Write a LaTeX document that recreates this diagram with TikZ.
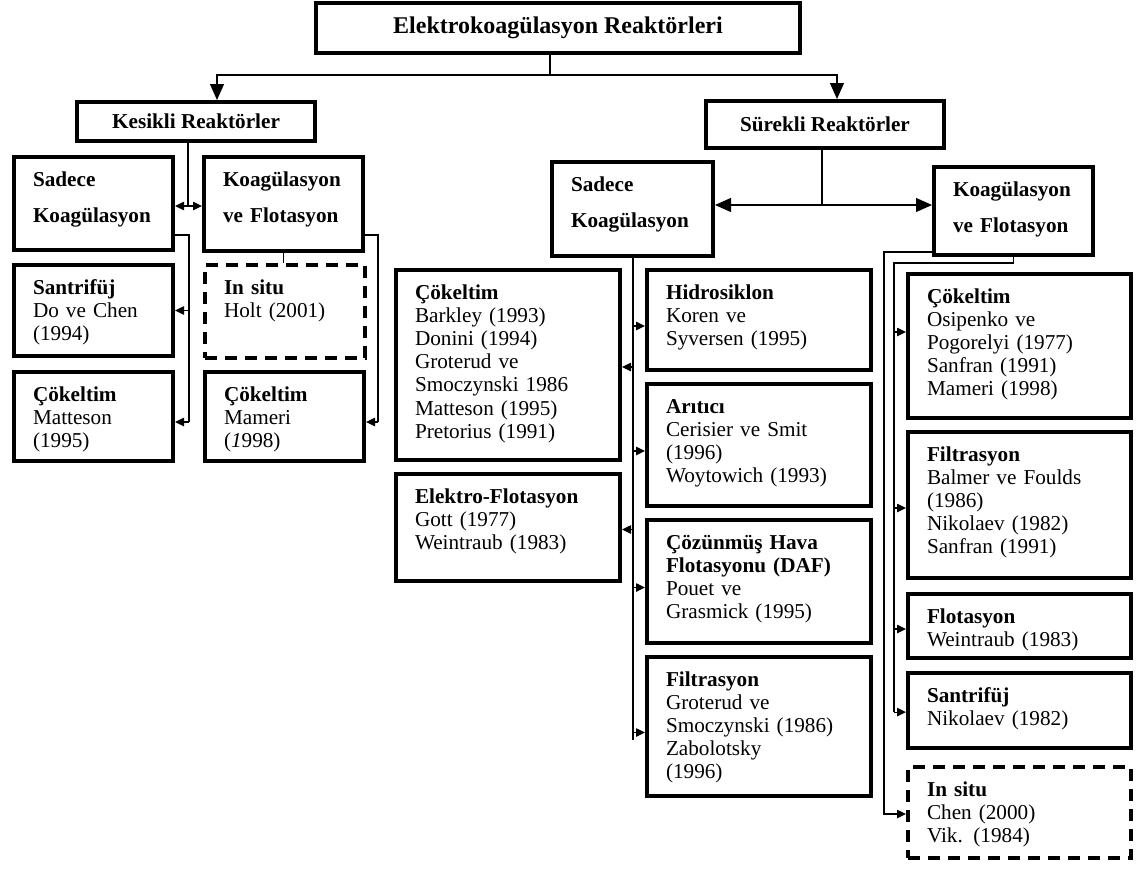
\documentclass[tikz,border=0pt]{standalone}
\usepackage{fontspec}
\setmainfont{Liberation Serif}
\usetikzlibrary{calc,arrows.meta,positioning}
\newcommand{\reffont}{\fontsize{10.6}{11.6}\selectfont}
\tikzset{
    % Reference boxes (text at the top left)
    refbox/.style={
        draw, line width=2pt, rectangle, anchor=north west,
        inner xsep=9.5pt, inner ysep=0pt, align=left,
        text height=14.5pt, font=\reffont
    },
    kindbox/.style={refbox, font=\reffont\bfseries},
    dashbox/.style={refbox, dash pattern=on 6pt off 4pt},
    % box size in pixels (width, height)
    sz/.style 2 args={text width=#1*0.5pt-19pt, text depth=#2*0.5pt-14.5pt},
    % Reactor headings
    headbox/.style={
        draw, line width=2pt, rectangle, inner sep=0pt,
        font=\reffont\bfseries
    },
}
\tikzset{
    link/.style={line width=0.6pt},
    buslink/.style={line width=0.9pt},
    tip/.style={link, -{Triangle[length=4.5pt,width=4.2pt]}},
    bigtip/.style={link, -{Triangle[length=8pt,width=7pt]}},
}

\begin{document}
\begin{tikzpicture}[x=0.5pt, y=-0.5pt]
    \useasboundingbox (0,0) rectangle (1140,868);
    % headings
    \node[headbox, minimum width=242pt, minimum height=25pt,
          font=\fontsize{12}{14}\selectfont\bfseries] (title) at (558,28) {Elektrokoagülasyon Reaktörleri};
    \node[headbox, minimum width=119pt, minimum height=19.5pt] (kes) at (196,121.5) {Kesikli Reaktörler};
    \node[headbox, minimum width=119pt, minimum height=23.5pt] (sur) at (825,124.5) {Sürekli Reaktörler};

    % batch reactors
    \node[kindbox, sz={159}{93}] (sadL) at (12,155) {Sadece\\[6.5pt]Koagülasyon};
    \node[kindbox, sz={159}{94}] (kfL) at (202,155) {Koagülasyon\\[6.5pt]ve Flotasyon};
    \node[refbox, sz={159}{91}] (santL) at (12,263) {\textbf{Santrifüj}\\Do ve Chen\\(1994)};
    \node[dashbox, sz={160}{93}] (insL) at (203,263) {\textbf{In situ}\\Holt (2001)};
    \node[refbox, sz={159}{89}] (cokL) at (12,370) {\textbf{Çökeltim}\\Matteson\\(1995)};
    \node[refbox, sz={159}{89}] (camL) at (203,370) {\textbf{Çökeltim}\\Mameri\\({\itshape 1}998)};

    % continuous reactors, coagulation only
    \node[kindbox, sz={161}{94}] (sadM) at (550,160) {Sadece\\[6.5pt]Koagülasyon};
    \node[refbox, sz={224}{190}] (cokM) at (394,268) {\textbf{Çökeltim}\\Barkley (1993)\\Donini (1994)\\Groterud ve\\Smoczynski 1986\\Matteson (1995)\\Pretorius (1991)};
    \node[refbox, sz={224}{107}] (elfM) at (394,472) {\textbf{Elektro-Flotasyon}\\Gott (1977)\\Weintraub (1983)};
    \node[refbox, sz={224}{100}] (hidM) at (645,268) {\textbf{Hidrosiklon}\\Koren ve\\Syversen (1995)};
    \node[refbox, sz={224}{122}] (ariM) at (645,382) {\textbf{Arıtıcı}\\Cerisier ve Smit\\(1996)\\Woytowich (1993)};
    \node[refbox, sz={224}{123}] (dafM) at (645,518) {\textbf{Çözünmüş Hava}\\\textbf{Flotasyonu (DAF)}\\Pouet ve\\Grasmick (1995)};
    \node[refbox, sz={224}{139}] (filM) at (645,655) {\textbf{Filtrasyon}\\Groterud ve\\Smoczynski (1986)\\Zabolotsky\\(1996)};

    % continuous reactors, coagulation and flotation
    \node[kindbox, sz={159}{88}] (kfR) at (932,165) {Koagülasyon\\[6.5pt]ve Flotasyon};
    \node[refbox, sz={223}{144}] (cokR) at (906,272) {\textbf{Çökeltim}\\Osipenko ve\\Pogorelyi (1977)\\Sanfran (1991)\\Mameri (1998)};
    \node[refbox, sz={223}{146}] (filR) at (906,430) {\textbf{Filtrasyon}\\Balmer ve Foulds\\(1986)\\Nikolaev (1982)\\Sanfran (1991)};
    \node[refbox, sz={223}{64}] (floR) at (906,592) {\textbf{Flotasyon}\\Weintraub (1983)};
    \node[refbox, sz={223}{75}] (sanR) at (906,671) {\textbf{Santrifüj}\\Nikolaev (1982)};
    \node[dashbox, sz={223}{91}] (insR) at (906,765) {\textbf{In situ}\\Chen (2000)\\Vik. (1984)};

    % top split
    \coordinate (tj) at (550,75);
    \draw[link] ([xshift=-4pt]title.south) -- (tj);
    \draw[bigtip] (tj) -| ([xshift=10.5pt]kes.north);
    \draw[bigtip] (tj) -| ([xshift=6pt]sur.north);

    % batch branches
    \coordinate (kj) at (188,206);
    \draw[link] ([xshift=-4pt]kes.south) -- (kj);
    \draw[tip] (kj) -- (kj -| sadL.east);
    \draw[tip] (kj) -- (kj -| kfL.west);
    \coordinate (la) at (189,235);
    \coordinate (lb) at (189,422);
    \draw[link] (la -| sadL.east) -- (la) -- (lb);
    \draw[tip] (santL.east -| la) -- (santL.east);
    \draw[tip] (lb) -- (lb -| cokL.east);
    \coordinate (ra) at (378,235);
    \coordinate (rb) at (378,422);
    \draw[link] (ra -| kfL.east) -- (ra) -- (rb);
    \draw[tip] (rb) -- (rb -| camL.east);
    \draw[link] (kfL.south) -- (kfL.south |- insL.north);

    % continuous branches
    \coordinate (sj) at (822,205);
    \draw[link] (sur.south -| sj) -- (sj);
    \draw[bigtip] (sj) -- (sj -| sadM.east);
    \draw[bigtip] (sj) -- (sj -| kfR.west);

    % coagulation only bus
    \coordinate (mb) at (633,740);
    \draw[buslink] (sadM.south -| mb) -- (mb);
    \foreach \n in {hidM,ariM,dafM,filM}
        \draw[tip] ([yshift=-3pt]\n.west -| mb) -- ([yshift=-3pt]\n.west);
    \foreach \n in {cokM,elfM}
        \draw[tip] ([yshift=-1pt]\n.east -| mb) -- ([yshift=-1pt]\n.east);

    % coagulation and flotation bus
    \coordinate (ro) at (884,814);
    \draw[tip] ([yshift=-20.5pt]kfR.west) -| (ro) -- (ro -| insR.west);
    \coordinate (ri) at (894,263);
    \coordinate (re) at (894,712);
    \draw[link] (kfR.south) |- (ri) -- (re);
    \foreach \n/\s in {cokR/7pt,filR/-1.5pt,floR/-1.5pt,sanR/-0.8pt}
        \draw[tip] ([yshift=\s]\n.west -| re) -- ([yshift=\s]\n.west);
\end{tikzpicture}
\end{document}
